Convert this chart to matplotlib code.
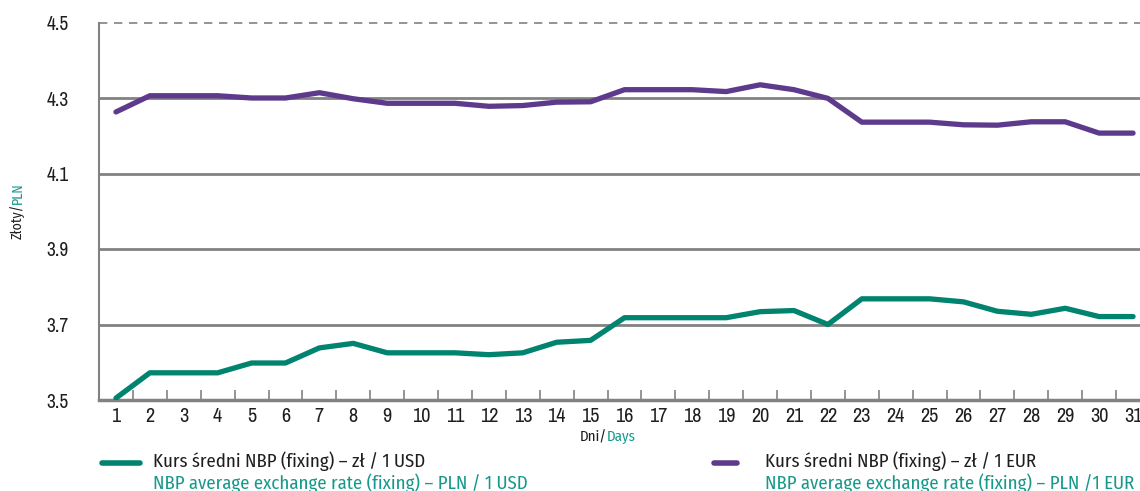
import matplotlib
matplotlib.use("Agg")
import matplotlib.pyplot as plt
from matplotlib.lines import Line2D
from matplotlib import font_manager as fm

# dni miesiaca i kursy sredni NBP
days = list(range(1, 32))
usd = [3.505, 3.572, 3.572, 3.572, 3.598, 3.598, 3.638, 3.650, 3.625, 3.625,
       3.625, 3.620, 3.625, 3.653, 3.658, 3.718, 3.718, 3.718, 3.718, 3.734,
       3.737, 3.700, 3.768, 3.768, 3.768, 3.760, 3.735, 3.727, 3.743, 3.721,
       3.721]
eur = [4.263, 4.306, 4.306, 4.306, 4.300, 4.300, 4.314, 4.298, 4.286, 4.286,
       4.286, 4.278, 4.280, 4.289, 4.290, 4.322, 4.322, 4.322, 4.317, 4.335,
       4.322, 4.299, 4.236, 4.236, 4.236, 4.229, 4.228, 4.237, 4.237, 4.207,
       4.207]
y_ticks = [3.5, 3.7, 3.9, 4.1, 4.3, 4.5]
usd_pl = "Kurs średni NBP (fixing) – zł / 1 USD"
usd_en = "NBP average exchange rate (fixing) – PLN / 1 USD"
eur_pl = "Kurs średni NBP (fixing) – zł / 1 EUR"
eur_en = "NBP average exchange rate (fixing) – PLN /1 EUR"

# wybor czcionki waskiej (jesli jest)
installed = {f.name for f in fm.fontManager.ttflist}
def pick(prefs):
    for p in prefs:
        if p in installed:
            return p
    return 'DejaVu Sans'

num_font = pick(['Arial Narrow', 'Liberation Sans Narrow', 'Archivo Narrow', 'PT Sans Narrow',
                 'Roboto Condensed', 'IBM Plex Sans Condensed', 'Liberation Sans'])
txt_font = pick(['Fira Sans Condensed', 'Encode Sans Condensed', 'Roboto Condensed',
                 'Open Sans Condensed', 'Asap Condensed', 'IBM Plex Sans Condensed',
                 'PT Sans Narrow', 'Liberation Sans Narrow', 'Liberation Sans'])

teal = "#00836f"
teal_txt = "#17988a"
purple = "#5e3a8c"
grey = "#828282"
dark = "#1e1e1e"

W, H = 1140, 491
fig = plt.figure(figsize=(W / 100, H / 100), dpi=100)
ax = fig.add_axes([99 / W, 91 / H, 1051 / W, 377.5 / H])

ax.plot(days, usd, color=teal, linewidth=3.8, solid_capstyle='round', zorder=3)
ax.plot(days, eur, color=purple, linewidth=3.8, solid_capstyle='round', zorder=3)

ax.set_xlim(0.5, 31.5)
ax.set_ylim(3.5, 4.5)

# linie siatki
for v in y_ticks[1:-1]:
    ax.axhline(v, color=grey, linewidth=2.0, zorder=1)
ax.axhline(4.5, color=grey, linewidth=1.2, linestyle=(0, (5, 4)), zorder=1, clip_on=False)

for s in ['top', 'right']:
    ax.spines[s].set_visible(False)
ax.spines['left'].set_color(grey)
ax.spines['left'].set_linewidth(1.5)
ax.spines['bottom'].set_color(grey)
ax.spines['bottom'].set_linewidth(2.5)

ax.set_yticks(y_ticks)
ax.set_yticklabels([str(v) for v in y_ticks], family=num_font)
ax.tick_params(axis='y', length=0, pad=22, labelsize=14, labelcolor=dark)

ax.set_xticks(days)
ax.set_xticklabels([str(d) for d in days], family=num_font)
ax.set_xticks([d + 0.5 for d in days[:-1]], minor=True)
ax.tick_params(axis='x', which='major', length=0, pad=5, labelsize=14.5, labelcolor=dark)
ax.tick_params(axis='x', which='minor', direction='in', length=7, width=1.2, color=grey)

fig.canvas.draw()
r = fig.canvas.get_renderer()

def size_for(s, target_px):
    t = fig.text(0, 0, s, fontsize=10, family=txt_font)
    w = t.get_window_extent(r).width
    t.remove()
    return 10 * target_px / w

# opis osi Y: Złoty/PLN
fs = size_for("Złoty/PLN", 57)
t1 = fig.text(18 / W, 1 - 239 / H, "Złoty/", rotation=90, ha='center', va='bottom',
              fontsize=fs, color=dark, family=txt_font)
bb = t1.get_window_extent(r)
fig.text(18 / W, bb.y1 / H, "PLN", rotation=90, ha='center', va='bottom',
         fontsize=fs, color=teal_txt, family=txt_font)

# opis osi X: Dni/Days
fs = size_for("Dni/Days", 56)
t2 = fig.text(580 / W, 1 - 437 / H, "Dni/", ha='left', va='center', fontsize=fs,
              color=dark, family=txt_font)
bb = t2.get_window_extent(r)
fig.text(bb.x1 / W, 1 - 437 / H, "Days", ha='left', va='center', fontsize=fs,
         color=teal_txt, family=txt_font)

# legenda
fs = size_for(usd_pl, 272)
fig.add_artist(Line2D([102 / W, 140 / W], [1 - 463 / H, 1 - 463 / H], color=teal,
                      linewidth=4, solid_capstyle='round'))
fig.text(153 / W, 1 - 461 / H, usd_pl, ha='left', va='center', fontsize=fs,
         color=dark, family=txt_font)
fig.text(153 / W, 1 - 483 / H, usd_en, ha='left', va='center', fontsize=fs,
         color=teal_txt, family=txt_font)

fig.add_artist(Line2D([714 / W, 737 / W], [1 - 463 / H, 1 - 463 / H], color=purple,
                      linewidth=4, solid_capstyle='round'))
fig.text(765 / W, 1 - 461 / H, eur_pl, ha='left', va='center', fontsize=fs,
         color=dark, family=txt_font)
fig.text(765 / W, 1 - 483 / H, eur_en, ha='left', va='center', fontsize=fs,
         color=teal_txt, family=txt_font)

fig.savefig("out.png", dpi=100)
